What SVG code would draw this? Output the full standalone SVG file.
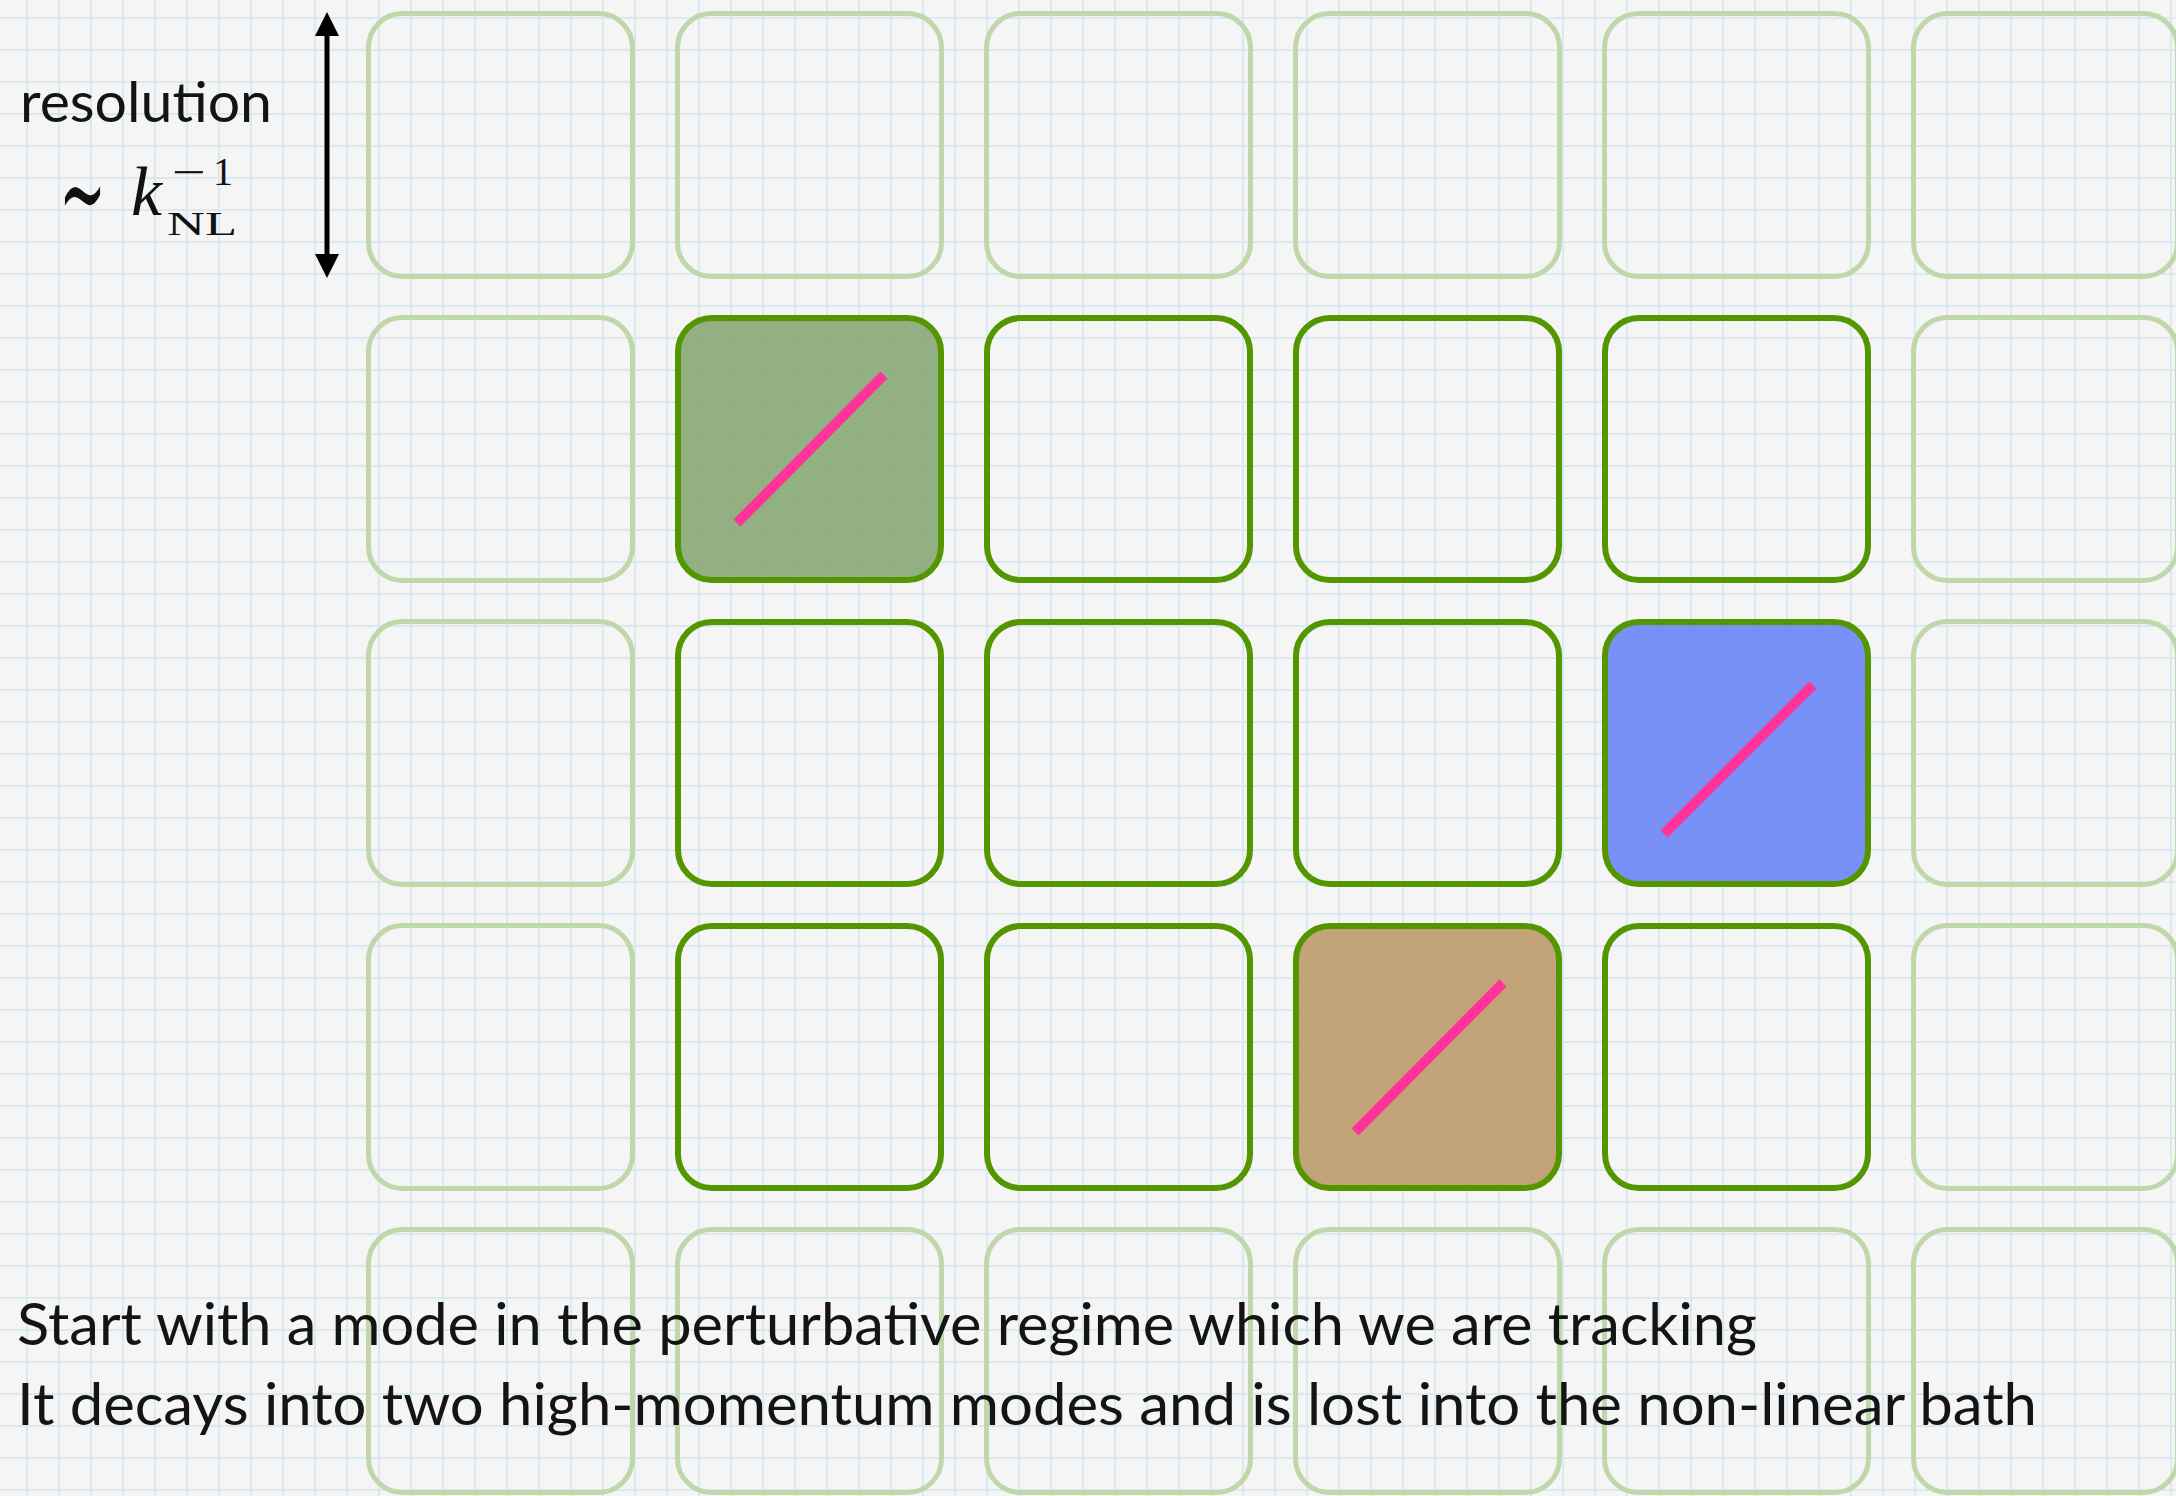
<svg xmlns="http://www.w3.org/2000/svg" width="2176" height="1496" viewBox="0 0 2176 1496">
<defs>
  <pattern id="grid" x="11" y="2" width="32" height="32" patternUnits="userSpaceOnUse">
    <path d="M16 0 V32 M0 16 H32" stroke="#d9e9ef" stroke-width="2" fill="none"/>
  </pattern>
  <marker id="head" viewBox="0 0 24 24" markerWidth="24" markerHeight="24" refX="1" refY="12" orient="auto-start-reverse" markerUnits="userSpaceOnUse">
    <path d="M0 0 L24 12 L0 24 Z" fill="#000"/>
  </marker>
  <style>
    .faint { fill: none; stroke: #bfd7aa; stroke-width: 5; }
    .box { fill: none; stroke: #539600; stroke-width: 6; }
    .g { fill: #88a875; fill-opacity: 0.9; }
    .b { fill: #6c85f6; fill-opacity: 0.9; }
    .br { fill: #be9b6a; fill-opacity: 0.9; }
    .mode { stroke: #ff3399; stroke-width: 10; fill: none; }
    .txt { font-family: Lato, "Noto Sans", "Liberation Sans", sans-serif; font-weight: 400; fill: #141414; }
    .math { font-family: "Liberation Serif", "DejaVu Serif", serif; fill: #111; }
  </style>
</defs>
<rect width="2176" height="1496" fill="#f5f5f5"/>
<rect width="2176" height="1496" fill="url(#grid)"/>

<!-- row 0 (faint) -->
<g id="b-0-0"><rect class="faint" x="368.5" y="13.5" width="264" height="263" rx="34"/></g>
<g id="b-0-1"><rect class="faint" x="677.5" y="13.5" width="264" height="263" rx="34"/></g>
<g id="b-0-2"><rect class="faint" x="986.5" y="13.5" width="264" height="263" rx="34"/></g>
<g id="b-0-3"><rect class="faint" x="1295.5" y="13.5" width="264" height="263" rx="34"/></g>
<g id="b-0-4"><rect class="faint" x="1604.5" y="13.5" width="264" height="263" rx="34"/></g>
<g id="b-0-5"><rect class="faint" x="1913.5" y="13.5" width="264" height="263" rx="34"/></g>

<!-- row 1 -->
<g id="b-1-0"><rect class="faint" x="368.5" y="317.5" width="264" height="263" rx="34"/></g>
<g id="b-1-1"><rect class="box g" x="678" y="318" width="263" height="262" rx="34"/><line class="mode" x1="737" y1="523" x2="884" y2="375"/></g>
<g id="b-1-2"><rect class="box" x="987" y="318" width="263" height="262" rx="34"/></g>
<g id="b-1-3"><rect class="box" x="1296" y="318" width="263" height="262" rx="34"/></g>
<g id="b-1-4"><rect class="box" x="1605" y="318" width="263" height="262" rx="34"/></g>
<g id="b-1-5"><rect class="faint" x="1913.5" y="317.5" width="264" height="263" rx="34"/></g>

<!-- row 2 -->
<g id="b-2-0"><rect class="faint" x="368.5" y="621.5" width="264" height="263" rx="34"/></g>
<g id="b-2-1"><rect class="box" x="678" y="622" width="263" height="262" rx="34"/></g>
<g id="b-2-2"><rect class="box" x="987" y="622" width="263" height="262" rx="34"/></g>
<g id="b-2-3"><rect class="box" x="1296" y="622" width="263" height="262" rx="34"/></g>
<g id="b-2-4"><rect class="box b" x="1605" y="622" width="263" height="262" rx="34"/><line class="mode" x1="1664" y1="834" x2="1813" y2="685"/></g>
<g id="b-2-5"><rect class="faint" x="1913.5" y="621.5" width="264" height="263" rx="34"/></g>

<!-- row 3 -->
<g id="b-3-0"><rect class="faint" x="368.5" y="925.5" width="264" height="263" rx="34"/></g>
<g id="b-3-1"><rect class="box" x="678" y="926" width="263" height="262" rx="34"/></g>
<g id="b-3-2"><rect class="box" x="987" y="926" width="263" height="262" rx="34"/></g>
<g id="b-3-3"><rect class="box br" x="1296" y="926" width="263" height="262" rx="34"/><line class="mode" x1="1355" y1="1132" x2="1503" y2="983"/></g>
<g id="b-3-4"><rect class="box" x="1605" y="926" width="263" height="262" rx="34"/></g>
<g id="b-3-5"><rect class="faint" x="1913.5" y="925.5" width="264" height="263" rx="34"/></g>

<!-- row 4 (faint) -->
<g id="b-4-0"><rect class="faint" x="368.5" y="1229.5" width="264" height="263" rx="34"/></g>
<g id="b-4-1"><rect class="faint" x="677.5" y="1229.5" width="264" height="263" rx="34"/></g>
<g id="b-4-2"><rect class="faint" x="986.5" y="1229.5" width="264" height="263" rx="34"/></g>
<g id="b-4-3"><rect class="faint" x="1295.5" y="1229.5" width="264" height="263" rx="34"/></g>
<g id="b-4-4"><rect class="faint" x="1604.5" y="1229.5" width="264" height="263" rx="34"/></g>
<g id="b-4-5"><rect class="faint" x="1913.5" y="1229.5" width="264" height="263" rx="34"/></g>

<g id="connectors">
  <line x1="327" y1="35" x2="327" y2="255" stroke="#000" stroke-width="5" marker-start="url(#head)" marker-end="url(#head)"/>
</g>

<g id="label-resolution">
  <text class="txt" x="20" y="122" font-size="56" textLength="252" lengthAdjust="spacingAndGlyphs">resolution</text>
  <text class="math" font-family="DejaVu Serif" x="59" y="234" font-size="120" textLength="47" lengthAdjust="spacingAndGlyphs">∼</text>
  <text class="math" x="131" y="215" font-size="70" font-style="italic">k</text>
  <text class="math" x="172" y="187" font-size="44" textLength="34" lengthAdjust="spacingAndGlyphs">−</text>
  <text class="math" x="213" y="185" font-size="40">1</text>
  <text class="math" x="167" y="235" font-size="34" textLength="70" lengthAdjust="spacingAndGlyphs">NL</text>
</g>

<g id="caption">
  <text class="txt" x="17" y="1345" font-size="58" textLength="1740" lengthAdjust="spacingAndGlyphs">Start with a mode in the perturbative regime which we are tracking</text>
  <text class="txt" x="17" y="1425" font-size="58" textLength="2020" lengthAdjust="spacingAndGlyphs">It decays into two high-momentum modes and is lost into the non-linear bath</text>
</g>
</svg>
